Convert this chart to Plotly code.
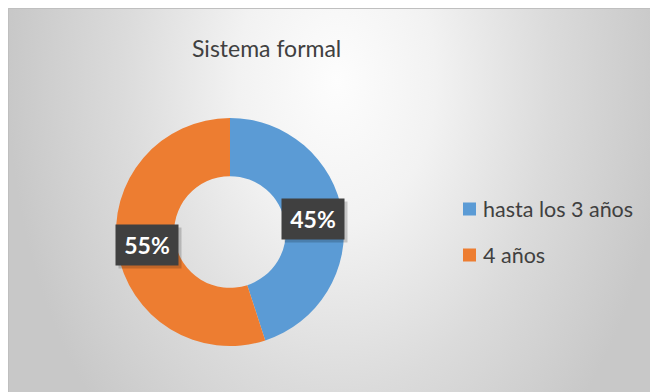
import math
import plotly.graph_objects as go

# ---- data ----
labels = ["hasta los 3 años", "4 años"]
values = [45, 55]
colors = ["#5B9BD5", "#ED7D31"]
title_text = "Sistema formal"

# page body has an 8px margin; the panel runs off the right/bottom edge
W, H = 658, 392
FONT = "Lato, Calibri, Carlito, 'Open Sans', sans-serif"

# donut geometry (pixels)
cx, cy, R = 222, 224, 114
hole = 0.49

fig = go.Figure()

# background panel with radial gradient
fig.add_trace(go.Scatter(
    x=[0, W, W, 0, 0], y=[-408, -408, 552, 552, -408],
    mode="lines", line=dict(width=0), fill="toself",
    fillgradient=dict(type="radial",
                      colorscale=[[0, "#fdfdfd"], [0.3, "#f2f2f2"],
                                  [0.65, "#dbdbdb"], [1, "#c8c8c8"]]),
    hoverinfo="skip", showlegend=False,
))

fig.add_trace(go.Pie(
    labels=labels, values=values, hole=hole, sort=False,
    direction="clockwise", rotation=0,
    marker=dict(colors=colors, line=dict(width=0)),
    textinfo="none", showlegend=False,
    domain=dict(x=[(cx - R) / W, (cx + R) / W],
                y=[(H - cy - R) / H, (H - cy + R) / H]),
))

annotations = []
total = sum(values)
cum = 0
r_lab = 0.74 * R
for lab, v in zip(labels, values):
    theta = 2 * math.pi * (cum + v / 2) / total
    cum += v
    px = cx + r_lab * math.sin(theta)
    py = cy - r_lab * math.cos(theta)
    pct = f"{round(100 * v / total)}%"
    # shadow
    annotations.append(dict(x=px + 3, y=py + 3, xref="x", yref="y",
                            text=" ", showarrow=False, width=50, height=28,
                            borderpad=6, bgcolor="rgba(0,0,0,0.18)"))
    annotations.append(dict(x=px, y=py, xref="x", yref="y",
                            text=f"<b>{pct}</b>", showarrow=False,
                            width=50, height=28, borderpad=6,
                            bgcolor="#404040",
                            font=dict(family=FONT, size=23, color="white")))

# title
annotations.append(dict(x=258, y=40, xref="x", yref="y", text=title_text,
                        showarrow=False,
                        font=dict(family=FONT, size=23, color="#404040")))

# legend
shapes = [dict(type="rect", xref="x", yref="y", x0=0.5, y0=0.5, x1=W + 1, y1=H + 1,
               line=dict(color="#bfbfbf", width=1), fillcolor="rgba(0,0,0,0)",
               layer="above")]
leg_x, leg_y0, leg_dy = 455, 201, 46
for i, (lab, c) in enumerate(zip(labels, colors)):
    yy = leg_y0 + i * leg_dy
    shapes.append(dict(type="rect", xref="x", yref="y",
                       x0=leg_x, x1=leg_x + 13, y0=yy - 6.5, y1=yy + 6.5,
                       fillcolor=c, line=dict(width=0), layer="above"))
    annotations.append(dict(x=leg_x + 18, y=yy, xref="x", yref="y",
                            text=lab, showarrow=False, xanchor="left",
                            font=dict(family=FONT, size=21.5, color="#404040")))

fig.update_layout(
    width=W, height=H, margin=dict(l=0, r=0, t=0, b=0),
    paper_bgcolor="white", plot_bgcolor="white",
    xaxis=dict(range=[0, W], visible=False, fixedrange=True),
    yaxis=dict(range=[H, 0], visible=False, fixedrange=True),
    annotations=annotations, shapes=shapes, showlegend=False,
)

fig.write_html("out.html", default_width=f"{W}px", default_height=f"{H}px",
               post_script="document.documentElement.style.overflow='hidden';"
                           "document.body.style.overflow='hidden';")
